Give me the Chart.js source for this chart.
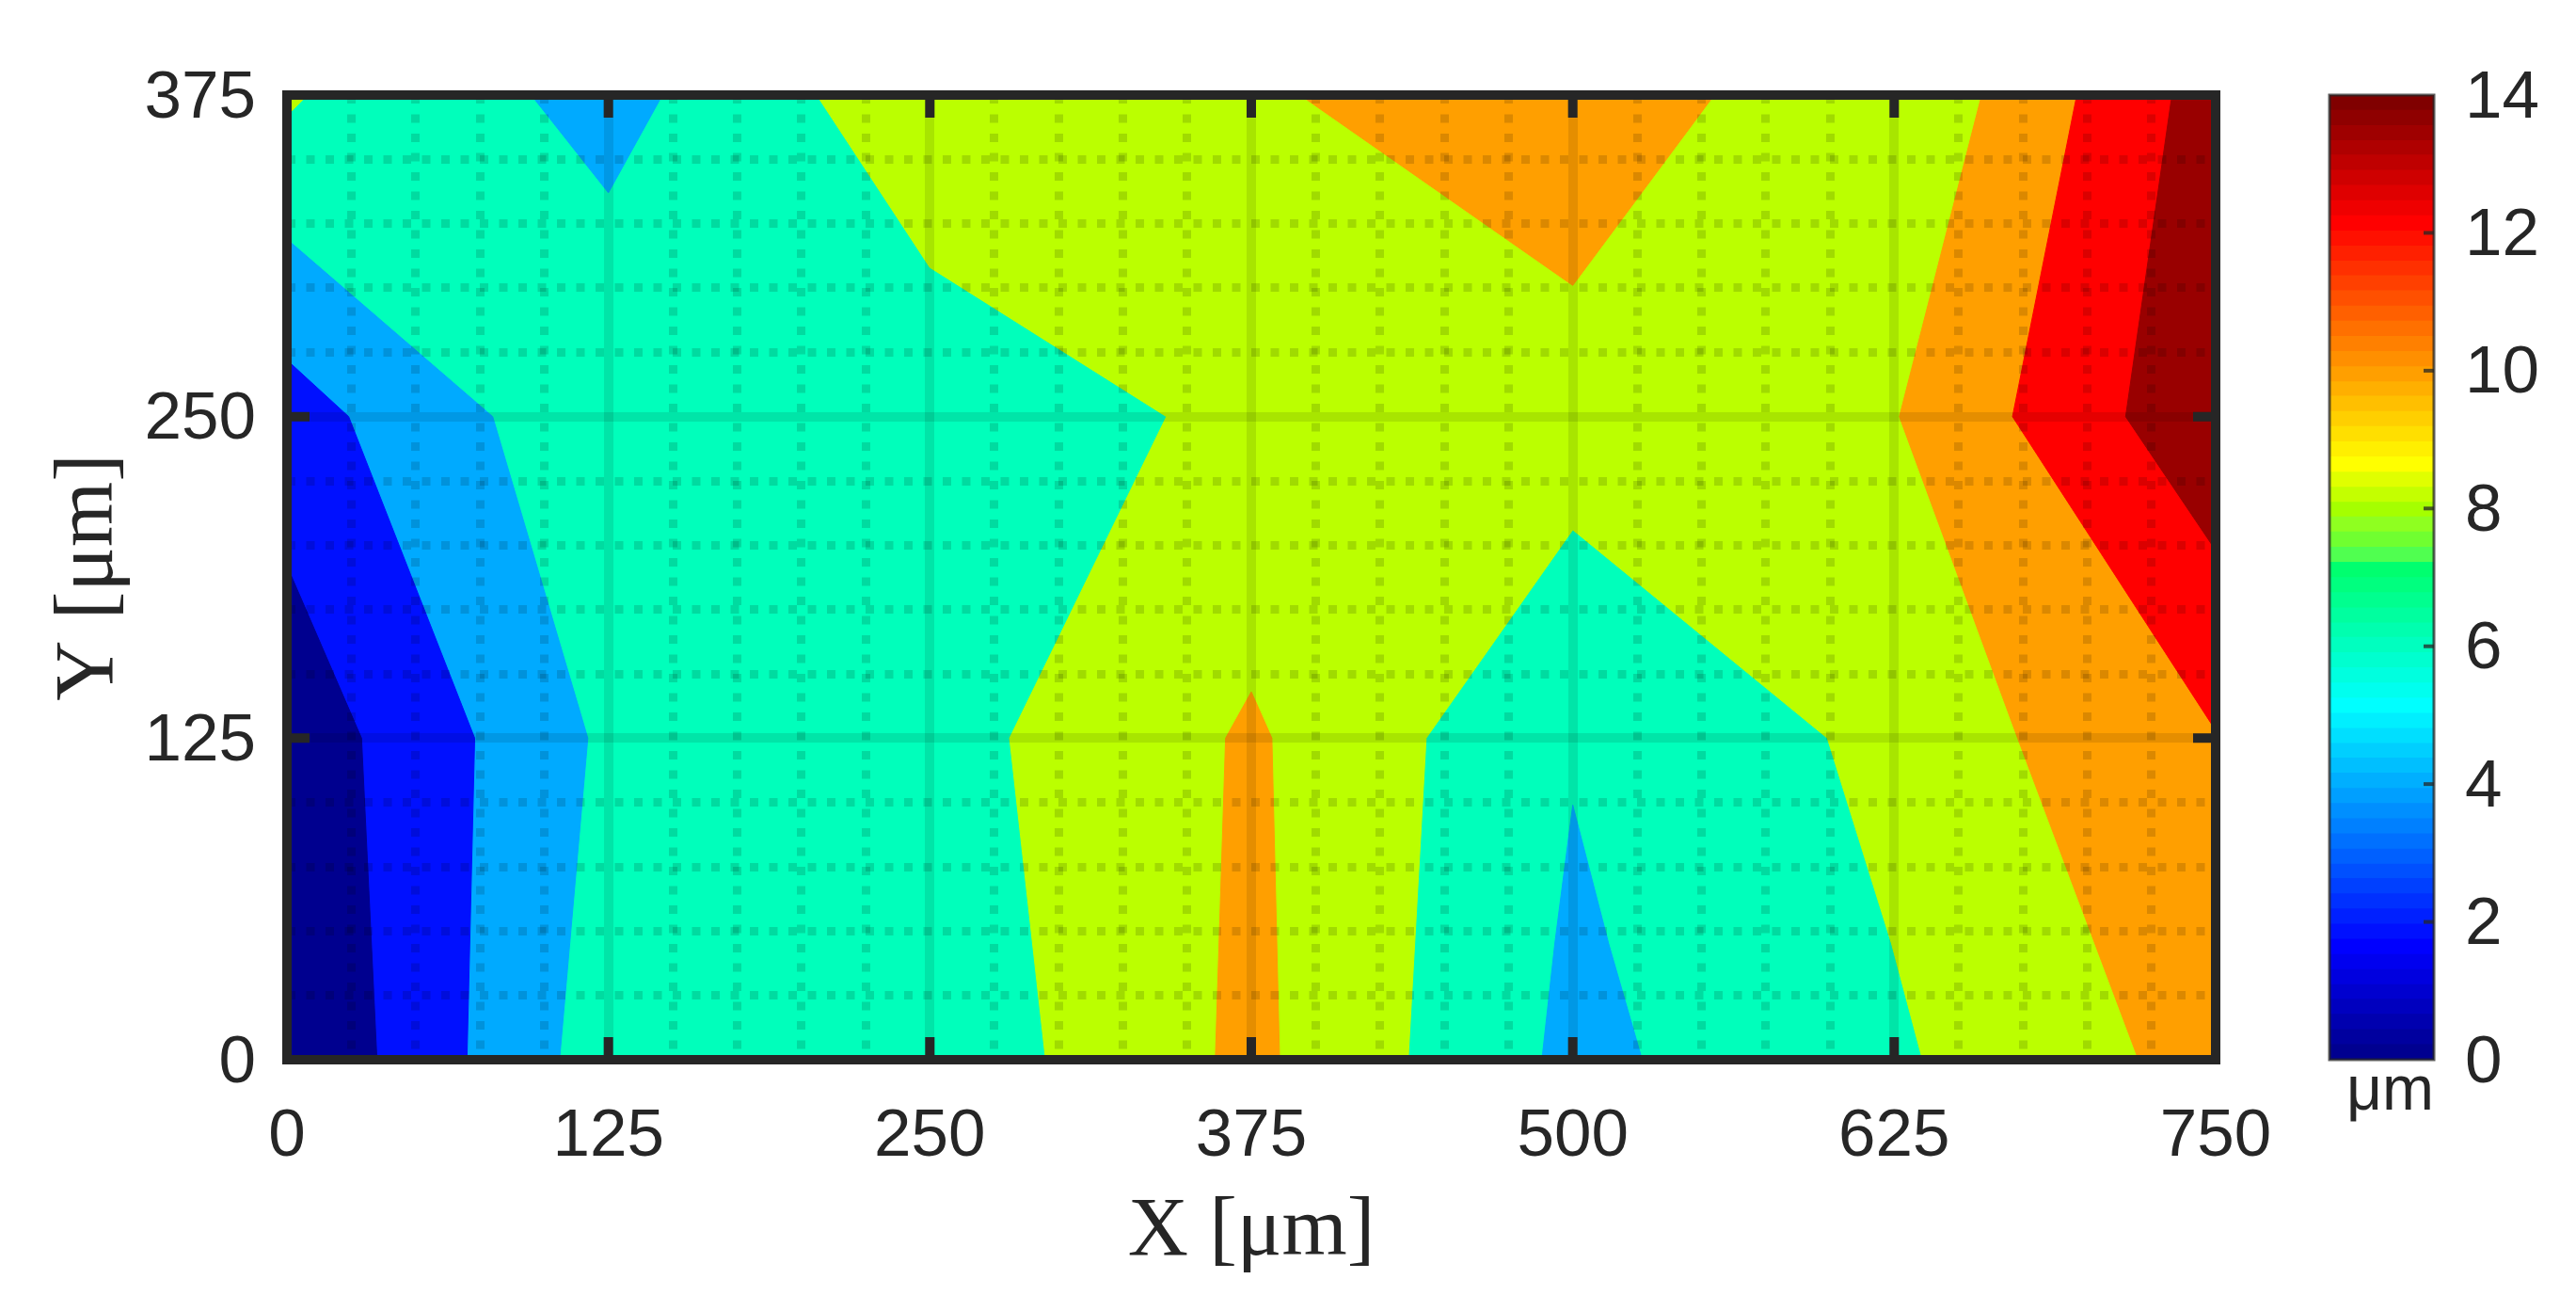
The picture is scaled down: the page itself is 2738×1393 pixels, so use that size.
<!DOCTYPE html>
<html>
<head>
<meta charset="utf-8">
<title>Contour map</title>
<script src="https://cdn.jsdelivr.net/npm/chart.js@4"></script>
<style>
html, body { margin: 0; padding: 0; background: #fff; }
#wrap { position: relative; width: 2738px; height: 1393px; overflow: hidden; }
#mapChart { position: absolute; left: 0; top: 0; }
#barChart { position: absolute; left: 2400px; top: 0; }
</style>
</head>
<body>
<div id="wrap">
<canvas id="mapChart" width="2738" height="1393"></canvas>
<canvas id="barChart" width="338" height="1393"></canvas>
</div>
<script>
const xLabels = [0, 125, 250, 375, 500, 625, 750];
const yLabels = [0, 125, 250, 375];
const barLabels = [0, 2, 4, 6, 8, 10, 12, 14];

// contour outlines in um, back to front
const band6to8 = [[0, 0], [750, 0], [750, 375], [0, 375], [0, 0]];
const band8to10 = [[206, 375], [250, 308], [342, 250], [281, 125], [295, 0], [436, 0], [443, 125], [500, 206], [599, 125], [624, 45], [636, 0], [750, 0], [750, 375], [206, 375]];
const band10to12Right = [[659, 375], [627, 250], [673, 125], [720, 0], [750, 0], [750, 375], [659, 375]];
const band12to13 = [[696, 375], [671, 250], [750, 128], [750, 375], [696, 375]];
const band13to14 = [[733, 375], [715, 250], [750, 198], [750, 375], [733, 375]];
const band10to12Top = [[394, 375], [500, 301], [555, 375], [394, 375]];
const band10to12Low = [[375, 143], [383, 125], [386, 0], [361, 0], [365, 125], [375, 143]];
const band4to6Low = [[500, 99], [514, 45], [527, 0], [488, 0], [493, 45], [500, 99]];
const band4to6Top = [[95, 375], [125, 337], [146, 375], [95, 375]];
const band4to6Left = [[0, 319], [80, 250], [117, 125], [106, 0], [0, 0], [0, 319]];
const band2to4 = [[0, 272], [24, 250], [73, 125], [70, 0], [0, 0], [0, 272]];
const band0to2 = [[0, 192], [29, 125], [35, 0], [0, 0], [0, 192]];
const band8to10Corner = [[0, 375], [8, 375], [0, 367], [0, 375]];

const bandLayers = [band6to8, band8to10, band10to12Right, band12to13, band13to14, band10to12Top, band10to12Low, band4to6Low, band4to6Top, band4to6Left, band2to4, band0to2, band8to10Corner];
const bandColors = ['#00ffbb', '#bbff00', '#ff9f00', '#ff0000', '#990000', '#ff9f00', '#ff9f00', '#00aaff', '#00aaff', '#00aaff', '#0010ff', '#00008f', '#bbff00'];

// colour bar: top value of each step and its colour
const barTops = [0.22, 0.44, 0.66, 0.88, 1.09, 1.31, 1.53, 1.75, 1.97, 2.19, 2.41, 2.63, 2.84, 3.06, 3.28, 3.5, 3.72, 3.94, 4.16, 4.38, 4.59, 4.81, 5.03, 5.25, 5.47, 5.69, 5.91, 6.13, 6.34, 6.56, 6.78, 7, 7.22, 7.44, 7.66, 7.88, 8.09, 8.31, 8.53, 8.75, 8.97, 9.19, 9.41, 9.63, 9.84, 10.06, 10.28, 10.5, 10.72, 10.94, 11.16, 11.38, 11.59, 11.81, 12.03, 12.25, 12.47, 12.69, 12.91, 13.13, 13.34, 13.56, 13.78, 14];
const barColors = ['#000090', '#00009f', '#0000af', '#0000bf', '#0000cf', '#0000df', '#0000ef', '#0000ff',
    '#0010ff', '#0020ff', '#0030ff', '#0040ff', '#0050ff', '#0060ff', '#0070ff', '#0080ff',
    '#008fff', '#009fff', '#00afff', '#00bfff', '#00cfff', '#00dfff', '#00efff', '#00ffff',
    '#00ffef', '#00ffdf', '#00ffcf', '#00ffbf', '#00ffaf', '#00ff9f', '#00ff8f', '#00ff7f',
    '#00ff6f', '#50ff50', '#70ff30', '#8fff20', '#a5ff00', '#c4ff00', '#e0ff00', '#ffff00',
    '#ffef00', '#ffdf00', '#ffcf00', '#ffbf00', '#ffaf00', '#ff9f00', '#ff8f00', '#ff8000',
    '#ff7000', '#ff6000', '#ff5000', '#ff4000', '#ff3000', '#ff2000', '#ff1000', '#ff0000',
    '#ef0000', '#df0000', '#cf0000', '#bf0000', '#af0000', '#9f0000', '#8f0000', '#800000'];

const sansFont = 'Liberation Sans';
const serifFont = 'Liberation Serif';
const inkColor = '#262626';

Chart.defaults.color = inkColor;

const framePlugin = {
    id: 'frame',
    afterDraw(chart) {
        const { ctx, chartArea, scales } = chart;
        const { left, right, top, bottom } = chartArea;
        ctx.save();
        ctx.strokeStyle = inkColor;
        ctx.lineWidth = 10;
        xLabels.slice(1, -1).forEach(v => {
            const px = scales.x.getPixelForValue(v);
            ctx.beginPath();
            ctx.moveTo(px, top);
            ctx.lineTo(px, top + 24);
            ctx.moveTo(px, bottom);
            ctx.lineTo(px, bottom - 24);
            ctx.stroke();
        });
        yLabels.slice(1, -1).forEach(v => {
            const py = scales.y.getPixelForValue(v);
            ctx.beginPath();
            ctx.moveTo(left, py);
            ctx.lineTo(left + 24, py);
            ctx.moveTo(right, py);
            ctx.lineTo(right - 24, py);
            ctx.stroke();
        });
        ctx.strokeRect(left, top, right - left, bottom - top);
        ctx.restore();
    }
};

const barFramePlugin = {
    id: 'barFrame',
    afterDraw(chart) {
        const { ctx, chartArea, scales } = chart;
        ctx.save();
        ctx.strokeStyle = 'rgba(38,38,38,0.75)';
        ctx.lineWidth = 4;
        barLabels.slice(1, -1).forEach(v => {
            const py = scales.y.getPixelForValue(v);
            ctx.beginPath();
            ctx.moveTo(chartArea.right, py);
            ctx.lineTo(chartArea.right - 11, py);
            ctx.stroke();
        });
        ctx.lineWidth = 3;
        ctx.strokeRect(chartArea.left, chartArea.top, chartArea.width, chartArea.height);
        ctx.restore();
    }
};

function gridAxis(position, max, labels, titleText, titleOpts, size) {
    return {
        type: 'linear',
        position: position,
        min: 0,
        max: max,
        afterBuildTicks(scale) {
            const ticks = [];
            for (let v = 0; v <= max; v += 25) ticks.push({ value: v });
            scale.ticks = ticks;
        },
        afterFit(scale) {
            if (position === 'left') scale.width = size;
            else scale.height = size;
        },
        border: {
            display: false,
            dash: ctx => (ctx.tick && ctx.tick.value % 125 === 0) ? [] : [9, 11.5]
        },
        grid: {
            z: 1,
            drawTicks: false,
            color: ctx => (ctx.tick && ctx.tick.value % 125 === 0) ? 'rgba(0,0,0,0.1)' : 'rgba(0,0,0,0.14)',
            lineWidth: ctx => (ctx.tick && ctx.tick.value % 125 === 0) ? 10 : 9
        },
        ticks: {
            autoSkip: false,
            maxRotation: 0,
            minRotation: 0,
            padding: position === 'left' ? 33 : 40,
            labelOffset: position === 'left' ? 4 : 0,
            font: { family: sansFont, size: 71 },
            callback: v => labels.includes(v) ? String(v) : ''
        },
        title: Object.assign({
            display: true,
            text: titleText,
            color: inkColor,
            font: { family: serifFont, size: 89 }
        }, titleOpts)
    };
}

new Chart(document.getElementById('mapChart'), {
    type: 'scatter',
    data: {
        datasets: bandLayers.map((band, i) => ({
            data: band.map(p => ({ x: p[0], y: p[1] })),
            showLine: true,
            fill: 'shape',
            backgroundColor: bandColors[i],
            borderColor: bandColors[i],
            borderWidth: 1,
            pointRadius: 0,
            tension: 0,
            order: bandLayers.length - i
        }))
    },
    options: {
        responsive: false,
        animation: false,
        devicePixelRatio: 1,
        layout: { padding: { top: 101, right: 383, left: 0, bottom: 0 } },
        plugins: { legend: { display: false }, tooltip: { enabled: false } },
        scales: {
            x: gridAxis('bottom', 750, xLabels, 'X [μm]', { padding: { top: 0, bottom: 30 } }, 267),
            y: gridAxis('left', 375, yLabels, 'Y [μm]', { padding: { top: 42, bottom: 0 } }, 305)
        }
    },
    plugins: [framePlugin]
});

new Chart(document.getElementById('barChart'), {
    type: 'bar',
    data: {
        labels: [''],
        datasets: barTops.map((top, i) => ({
            data: [top],
            backgroundColor: barColors[i],
            borderWidth: 0,
            grouped: false,
            barPercentage: 1,
            categoryPercentage: 1,
            order: i
        }))
    },
    options: {
        responsive: false,
        animation: false,
        devicePixelRatio: 1,
        layout: { padding: { top: 101, left: 76, right: 0, bottom: 0 } },
        plugins: { legend: { display: false }, tooltip: { enabled: false } },
        scales: {
            x: {
                grid: { display: false },
                border: { display: false },
                ticks: { display: false },
                afterFit(scale) { scale.height = 267; },
                title: {
                    display: true,
                    text: 'μm',
                    align: 'end',
                    color: inkColor,
                    font: { family: sansFont, size: 66 },
                    padding: { top: 0, bottom: 193 }
                }
            },
            y: {
                position: 'right',
                min: 0,
                max: 14,
                afterFit(scale) { scale.width = 151; },
                border: { display: false },
                grid: { display: false, drawTicks: false },
                afterBuildTicks(scale) { scale.ticks = barLabels.map(v => ({ value: v })); },
                ticks: {
                    autoSkip: false,
                    padding: 33,
                    labelOffset: 4,
                    font: { family: sansFont, size: 71 }
                }
            }
        }
    },
    plugins: [barFramePlugin]
});
</script>
</body>
</html>
